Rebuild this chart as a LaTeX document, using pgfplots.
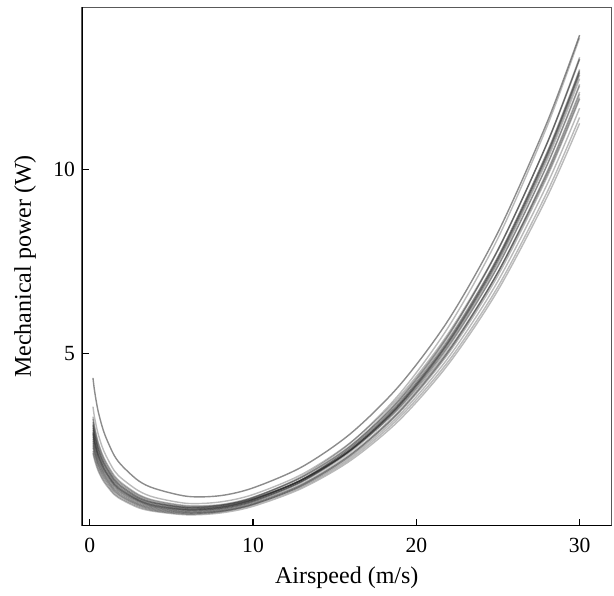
\documentclass[border=0pt]{standalone}
\usepackage{fontspec}
\setmainfont{Liberation Serif}
\usepackage{pgfplots}
\usepackage{pgfplotstable}
\pgfplotsset{compat=1.18}

% airspeed v, then one column per individual (power in W)
\pgfplotstableread{
v    c1    c2    c3    c4    c5    c6    c7    c8    c9    c10   c11   c12   c13   c14   c15   c16   c17   c18   c19   c20
0.2  4.35  3.06  3.57  3.30  3.15  3.00  2.94  2.88  3.09  2.82  2.76  2.70  2.64  2.58  2.52  2.46  2.37  2.31  3.24  2.85
0.3  3.99  2.81  3.27  3.03  2.89  2.75  2.70  2.64  2.83  2.59  2.53  2.48  2.42  2.37  2.31  2.26  2.17  2.12  2.97  2.61
0.5  3.48  2.45  2.86  2.64  2.52  2.40  2.35  2.30  2.47  2.26  2.21  2.16  2.11  2.06  2.02  1.97  1.90  1.85  2.59  2.28
0.75 3.05  2.14  2.50  2.31  2.21  2.10  2.06  2.02  2.16  1.97  1.93  1.89  1.85  1.81  1.76  1.72  1.66  1.62  2.27  2.00
1    2.73  1.92  2.24  2.07  1.97  1.88  1.84  1.80  1.94  1.77  1.73  1.69  1.65  1.62  1.58  1.54  1.49  1.45  2.03  1.79
1.5  2.25  1.58  1.84  1.71  1.63  1.55  1.52  1.49  1.60  1.46  1.43  1.40  1.36  1.33  1.30  1.27  1.22  1.19  1.67  1.47
2    1.96  1.38  1.61  1.49  1.42  1.35  1.32  1.30  1.39  1.27  1.24  1.22  1.19  1.16  1.13  1.11  1.07  1.04  1.46  1.28
3    1.56  1.10  1.29  1.19  1.14  1.08  1.06  1.04  1.11  1.02  1.00  0.98  0.95  0.93  0.91  0.89  0.86  0.83  1.17  1.03
4    1.35  0.96  1.11  1.03  0.98  0.94  0.92  0.90  0.96  0.88  0.86  0.85  0.83  0.81  0.79  0.77  0.75  0.73  1.01  0.89
6    1.14  0.84  0.95  0.89  0.85  0.82  0.80  0.79  0.83  0.77  0.76  0.74  0.72  0.71  0.69  0.68  0.66  0.64  0.87  0.78
8    1.16  0.89  0.99  0.92  0.90  0.86  0.85  0.83  0.87  0.82  0.80  0.80  0.77  0.76  0.74  0.73  0.72  0.69  0.90  0.84
10   1.37  1.11  1.19  1.12  1.10  1.06  1.05  1.03  1.07  1.02  1.00  1.00  0.97  0.95  0.93  0.91  0.92  0.87  1.08  1.05
13   1.94  1.69  1.74  1.66  1.66  1.60  1.59  1.56  1.59  1.56  1.53  1.54  1.48  1.46  1.43  1.40  1.44  1.36  1.59  1.60
16   2.85  2.60  2.61  2.51  2.53  2.45  2.45  2.40  2.41  2.41  2.36  2.40  2.30  2.27  2.22  2.17  2.26  2.12  2.39  2.49
19   4.16  3.93  3.86  3.74  3.80  3.68  3.69  3.62  3.61  3.64  3.57  3.64  3.48  3.43  3.36  3.29  3.45  3.22  3.55  3.77
22   5.94  5.75  5.58  5.43  5.53  5.36  5.39  5.29  5.24  5.32  5.21  5.34  5.09  5.03  4.92  4.82  5.08  4.74  5.13  5.51
25   8.29  8.13  7.83  7.63  7.81  7.57  7.62  7.47  7.38  7.52  7.37  7.57  7.21  7.12  6.97  6.82  7.21  6.72  7.21  7.81
28   11.26 11.15 10.69 10.43 10.69 10.36 10.45 10.24 10.10 10.32 10.11 10.39 9.89  9.78  9.58  9.37  9.93  9.24  9.84  10.70
30   13.63 13.56 12.97 12.67 12.99 12.60 12.70 12.45 12.26 12.55 12.30 12.64 12.03 11.90 11.65 11.40 12.09 11.24 11.94 13.03
}\powertab

\begin{document}
\begin{tikzpicture}
\begin{axis}[
  scale only axis, width=264.7pt, height=259pt,
  xmin=-0.47, xmax=31.96, ymin=0.35, ymax=14.38,
  xtick={0,10,20,30}, ytick={5,10},
  xtick pos=bottom, ytick pos=left,
  tick align=inside, major tick length=3.5pt,
  tick style={black, line width=0.6pt},
  axis line style={black!65, line width=0.6pt},
  /pgf/number format/assume math mode=true,
  tick label style={font=\fontsize{10.8}{12}\selectfont},
  xticklabel style={yshift=-2.5pt},
  label style={font=\fontsize{12}{14}\selectfont},
  xlabel={Airspeed (m/s)}, ylabel={Mechanical power (W)},
  xlabel style={at={([yshift=-26.3pt]axis description cs:0.5,0)}, anchor=center},
  ylabel style={at={([xshift=-28.5pt]axis description cs:0,0.5)}, anchor=center},
]
\addplot[black, opacity=0.45, line width=0.7pt, smooth, tension=0.5] table[x=v, y=c1] {\powertab};
\pgfplotsinvokeforeach{2,...,20}{
  \addplot[black, opacity=0.27, line width=0.7pt, smooth, tension=0.5] table[x=v, y=c#1] {\powertab};
}
\draw[black, line width=0.6pt] (rel axis cs:0,1) -- (rel axis cs:0,0) -- (rel axis cs:1,0);
\end{axis}
\path ([xshift=-41pt, yshift=-33pt]current axis.south west) rectangle ([xshift=1.2pt, yshift=3.7pt]current axis.north east);
\end{tikzpicture}
\end{document}
